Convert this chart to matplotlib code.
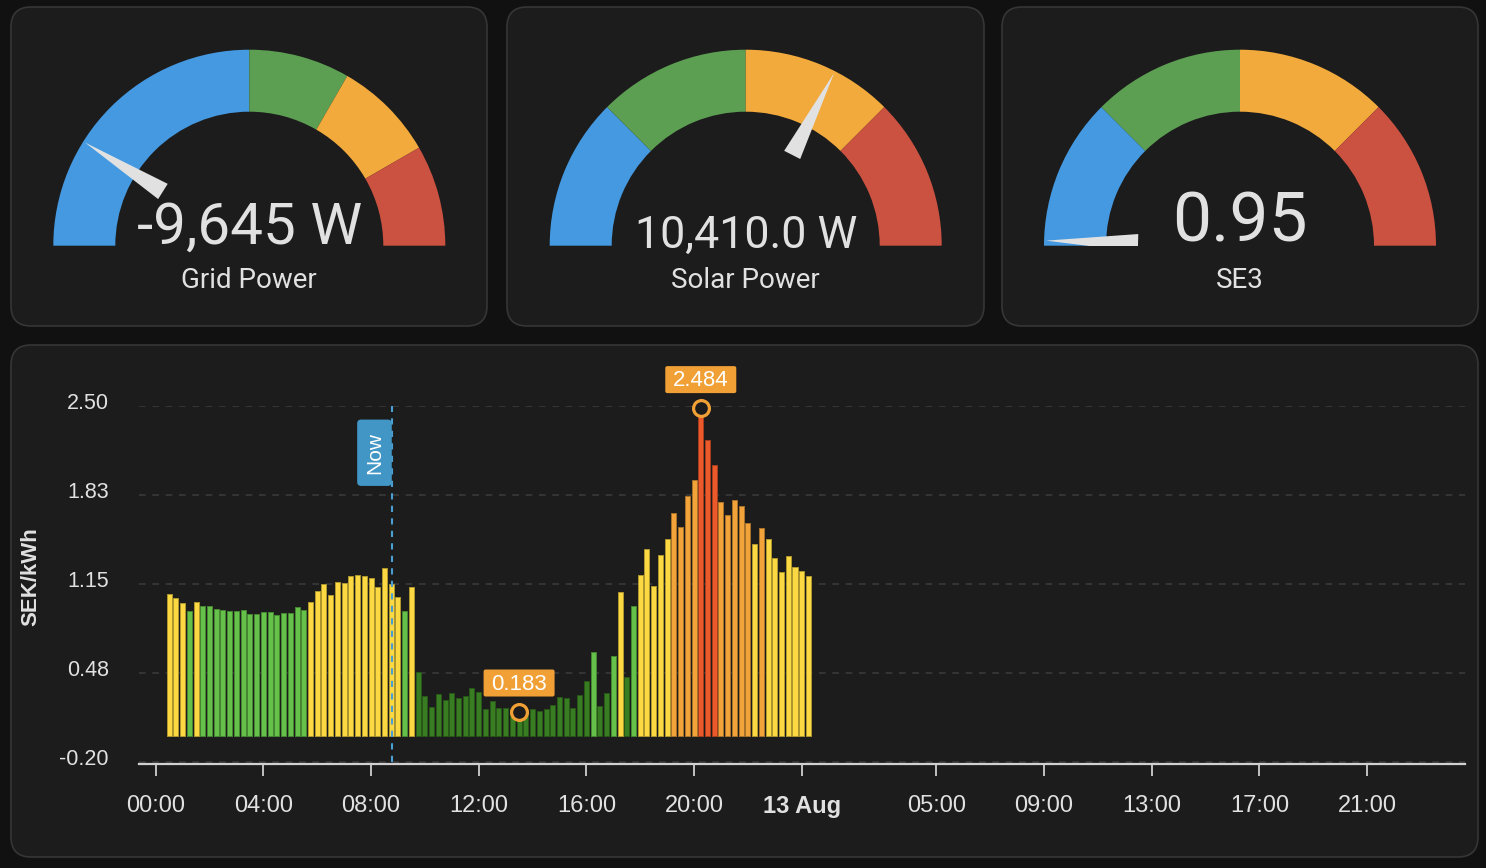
import numpy as np
import matplotlib.pyplot as plt
import matplotlib.transforms as mtransforms
from matplotlib.patches import Wedge, Polygon, FancyBboxPatch, Rectangle

W, H = 1486, 868

# gauges
gauge_names  = ['Grid Power', 'Solar Power', 'SE3']
gauge_values = [-9645, 10410.0, 0.95]
gauge_texts  = ['-9,645 W', '10,410.0 W', '0.95']
gauge_min    = [-15000, 0, 0.9]
gauge_max    = [15000, 16000, 6.9]
# segment upper bounds (blue, green, orange, red)
gauge_segs   = [[0, 5000, 10000, 15000],
                [4000, 8000, 12000, 16000],
                [2.4, 3.9, 5.4, 6.9]]
gauge_fsize  = [42.0, 32.3, 50.0]
gauge_base   = [244, 248.3, 241.7]
SEG_COLORS   = ['#4499e1', '#5c9f52', '#f2aa3c', '#cb5141']

# quarter-hour spot prices, SEK/kWh
prices = [1.073, 1.041, 1.005, 0.945, 1.013, 0.983, 0.980, 0.960, 0.955, 0.942,
          0.942, 0.952, 0.922, 0.922, 0.937, 0.939, 0.912, 0.927, 0.932, 0.975,
          0.955, 1.011, 1.096, 1.147, 1.068, 1.164, 1.155, 1.208, 1.217, 1.208,
          1.192, 1.127, 1.273, 1.152, 1.051, 0.945, 1.124, 0.485, 0.301, 0.217,
          0.316, 0.268, 0.321, 0.283, 0.301, 0.359, 0.329, 0.202, 0.263, 0.212,
          0.212, 0.200, 0.183, 0.202, 0.202, 0.190, 0.200, 0.233, 0.291, 0.283,
          0.212, 0.308, 0.412, 0.632, 0.227, 0.321, 0.604, 1.086, 0.442, 0.985,
          1.220, 1.412, 1.132, 1.371, 1.488, 1.687, 1.586, 1.816, 1.939, 2.484,
          2.243, 2.051, 1.771, 1.672, 1.786, 1.743, 1.609, 1.452, 1.573, 1.490,
          1.346, 1.242, 1.359, 1.280, 1.245, 1.207]
FIRST_SLOT_H = 0.5
SLOT_H       = 0.25
NOW_H        = 8.77

price_levels = [0.5, 1.0, 1.5, 2.0]
level_colors = ['#387d22', '#65c14a', '#fcd843', '#f2a33a', '#ec5a2b']

ytick_vals   = [2.50, 1.825, 1.15, 0.475, -0.20]
ytick_labels = ['2.50', '1.83', '1.15', '0.48', '-0.20']
xtick_hours  = [0, 4, 8, 12, 16, 20, 24, 29, 33, 37, 41, 45]
xtick_labels = ['00:00', '04:00', '08:00', '12:00', '16:00', '20:00', '13 Aug',
                '05:00', '09:00', '13:00', '17:00', '21:00']

TXT = '#e1e1e1'
CARD = '#1c1c1c'
ORANGE = '#f0a035'


def darken(c, f=0.7):
    r, g, b = [int(c[i:i + 2], 16) / 255 for i in (1, 3, 5)]
    return (r * f, g * f, b * f)


fig = plt.figure(figsize=(W / 100, H / 100), dpi=100)
fig.patch.set_facecolor('#111111')

bg = fig.add_axes([0, 0, 1, 1])
bg.set_xlim(0, W)
bg.set_ylim(H, 0)
bg.axis('off')

# cards
for x0, y0, x1, y1 in [(11, 7, 487, 326), (507, 7, 984, 326), (1002, 7, 1478, 326), (11, 345, 1478, 857)]:
    bg.add_patch(FancyBboxPatch((x0, y0), x1 - x0, y1 - y0,
                                boxstyle='round,pad=0,rounding_size=20',
                                fc=CARD, ec='#363636', lw=1.2))

# gauges
centers = [249.3, 745.7, 1240]
CY, R_OUT, R_IN = 245.7, 196, 134
for i, cx in enumerate(centers):
    lo, hi = gauge_min[i], gauge_max[i]
    start = lo
    for seg_end, col in zip(gauge_segs[i], SEG_COLORS):
        a1 = 180 - (start - lo) / (hi - lo) * 180
        a2 = 180 - (seg_end - lo) / (hi - lo) * 180
        bg.add_patch(Wedge((cx, CY), R_OUT, -a1, -a2, width=R_OUT - R_IN, fc=col, ec='none'))
        start = seg_end
    frac = (gauge_values[i] - lo) / (hi - lo)
    ang = np.radians(180 - frac * 180)
    u = np.array([np.cos(ang), -np.sin(ang)])
    p = np.array([np.sin(ang), np.cos(ang)])
    c = np.array([cx, CY])
    base = c + 102 * u
    tip = c + 194 * u
    needle = Polygon([base + 9 * p, tip, base - 9 * p], closed=True, fc='#e1e1e1', ec='none')
    bg.add_patch(needle)
    clip = Rectangle((cx - 210, CY - 210), 420, 210, transform=bg.transData)
    needle.set_clip_path(clip)
    bg.text(cx, gauge_base[i], gauge_texts[i], ha='center', va='baseline',
            fontsize=gauge_fsize[i], family='Roboto', color=TXT)
    bg.text(cx, 288, gauge_names[i], ha='center', va='baseline',
            fontsize=20, family='Roboto', color=TXT)

# price chart
left, right, top, bottom = 139, 1465, 406, 764
ax = fig.add_axes([left / W, (H - bottom) / H, (right - left) / W, (bottom - top) / H])
ax.set_facecolor('none')
ax.set_xlim(-0.62, 48.64)
ax.set_ylim(-0.215, 2.5)

x = FIRST_SLOT_H + SLOT_H * np.arange(len(prices))
vals = np.array(prices)
cols = [level_colors[np.searchsorted(price_levels, v)] for v in vals]
ax.bar(x, vals, width=0.186, color=cols, edgecolor=[darken(c) for c in cols], linewidth=0.7, zorder=3)

for yv in ytick_vals:
    ax.axhline(yv, color='#3a3a3a', lw=1.2, ls=(0, (4, 4)), zorder=1)

ax.plot([NOW_H, NOW_H], [-0.2, 2.5], color='#4a9fd0', lw=1.5, ls=(0, (3, 3)), zorder=4)

for s in ['top', 'left', 'right']:
    ax.spines[s].set_visible(False)
ax.spines['bottom'].set_color('#d0d0d0')
ax.spines['bottom'].set_linewidth(1.6)

ax.set_yticks(ytick_vals)
ax.set_yticklabels(ytick_labels, family='Liberation Sans')
ax.tick_params(axis='y', length=0, pad=21.6, labelsize=15.5, labelcolor=TXT)
off = mtransforms.ScaledTranslation(0, 5 / 100, fig.dpi_scale_trans)
for lab in ax.get_yticklabels():
    lab.set_transform(lab.get_transform() + off)

ax.set_xticks(xtick_hours)
ax.set_xticklabels(xtick_labels, family='Liberation Sans')
ax.tick_params(axis='x', length=8.6, width=1.3, color='#cfcfcf', pad=14,
               labelsize=17, labelcolor=TXT)
for lab in ax.get_xticklabels():
    if lab.get_text() == '13 Aug':
        lab.set_fontweight('bold')

fig.text(31 / W, 1 - 577 / H, 'SEK/kWh', rotation=90, ha='center', va='center',
         fontsize=16, fontweight='bold', family='Liberation Sans', color=TXT)

# min / max markers
imax, imin = int(np.argmax(vals)), int(np.argmin(vals))
ax.scatter([x[imax], x[imin]], [vals[imax], vals[imin]], s=130, facecolor=CARD,
           edgecolor=ORANGE, linewidth=2.3, zorder=6, clip_on=False)

ov = fig.add_axes([0, 0, 1, 1], zorder=10)
ov.set_xlim(0, W)
ov.set_ylim(H, 0)
ov.axis('off')
ov.patch.set_alpha(0)


def to_px(xd, yd):
    dx, dy = ax.transData.transform((xd, yd))
    return dx, H - dy


for i in (imax, imin):
    px, py = to_px(x[i], vals[i])
    cy = py - 28.5
    ov.add_patch(FancyBboxPatch((px - 35.5, cy - 13.5), 71, 27,
                                boxstyle='round,pad=0,rounding_size=2', fc=ORANGE, ec='none'))
    ov.text(px, cy + 1, f'{vals[i]:.3f}', ha='center', va='center', fontsize=16,
            family='Liberation Sans', color='white')

nx, _ = to_px(NOW_H, 0)
_, ny0 = to_px(NOW_H, 2.397)
_, ny1 = to_px(NOW_H, 1.894)
ov.add_patch(FancyBboxPatch((nx - 34.6, ny0), 34.6, ny1 - ny0,
                            boxstyle='round,pad=0,rounding_size=4', fc='#4196c5', ec='none'))
ov.text(nx - 17.3, (ny0 + ny1) / 2, 'Now', rotation=90, ha='center', va='center',
        fontsize=15, family='Liberation Sans', color='white')

fig.savefig('out.png', dpi=100, facecolor=fig.get_facecolor())
